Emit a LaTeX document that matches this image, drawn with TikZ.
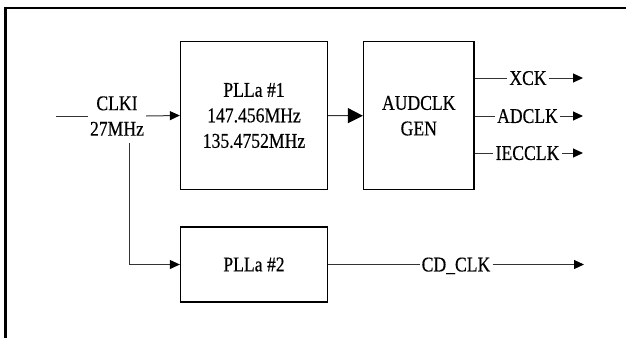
\documentclass[tikz,border=0pt]{standalone}
\usepackage{fontspec}
\setmainfont{Liberation Serif}[FakeStretch=0.84,FakeBold=0.4]
\usetikzlibrary{arrows.meta}
\begin{document}
\begin{tikzpicture}[x=1pt,y=-1pt,
  txt/.style={font=\fontsize{21}{25.5}\selectfont},
  blk/.style={txt, draw=black, line width=1.3pt, inner sep=0pt, align=center},
  lbl/.style={txt, inner sep=2pt, text depth=0pt},
  conn/.style={draw=black!80, line width=1pt},
  arr/.style={conn, -{Triangle[length=10pt,width=9pt,color=black]}},
  bigarr/.style={conn, -{Triangle[length=15pt,width=15pt,color=black]}},
]
\useasboundingbox (0,0) rectangle (626,338);
\draw[line width=2.7pt] (5.3,6.6) -- (5.3,338);
\draw[line width=2.4pt] (4,7.8) -- (626,7.8);

\node[blk, minimum width=147pt, minimum height=147.5pt] (pll1) at (254,115.5) {PLLa \#1\\147.456MHz\\135.4752MHz};
\node[blk, minimum width=110.5pt, minimum height=148pt] (aud) at (418.75,115.75) {AUDCLK\\GEN};
\node[blk, minimum width=147pt, minimum height=75pt] (pll2) at (254,264.5) {PLLa \#2};

\node[txt, align=center, inner sep=2pt] (clki) at (117,116) {CLKI\\27MHz};
\coordinate (in) at (56,116);
\coordinate (split) at (129,143);
\draw[conn] (in) -- (clki.west);
\draw[arr] (clki.east) -- (pll1.west);
\draw[arr] (split) |- (pll2.west);
\draw[bigarr] (pll1.east) -- (aud.west);

\node[lbl] (xck) at (528,78) {XCK};
\node[lbl] (adclk) at (527.5,116) {ADCLK};
\node[lbl] (iecclk) at (527.5,153) {IECCLK};
\node[lbl] (cdclk) at (456,264.5) {CD\_CLK};
\coordinate (xckend) at (583,78);
\coordinate (adend) at (583,116);
\coordinate (iecend) at (583,153);
\coordinate (cdend) at (584,264.5);

\draw[conn] (aud.east |- xck.west) -- (xck.west);
\draw[arr] (xck.east) -- (xckend);
\draw[conn] (aud.east |- adclk.west) -- (adclk.west);
\draw[arr] (adclk.east) -- (adend);
\draw[conn] (aud.east |- iecclk.west) -- (iecclk.west);
\draw[arr] (iecclk.east) -- (iecend);
\draw[conn] (pll2.east) -- (cdclk.west);
\draw[arr] (cdclk.east) -- (cdend);
\end{tikzpicture}
\end{document}
